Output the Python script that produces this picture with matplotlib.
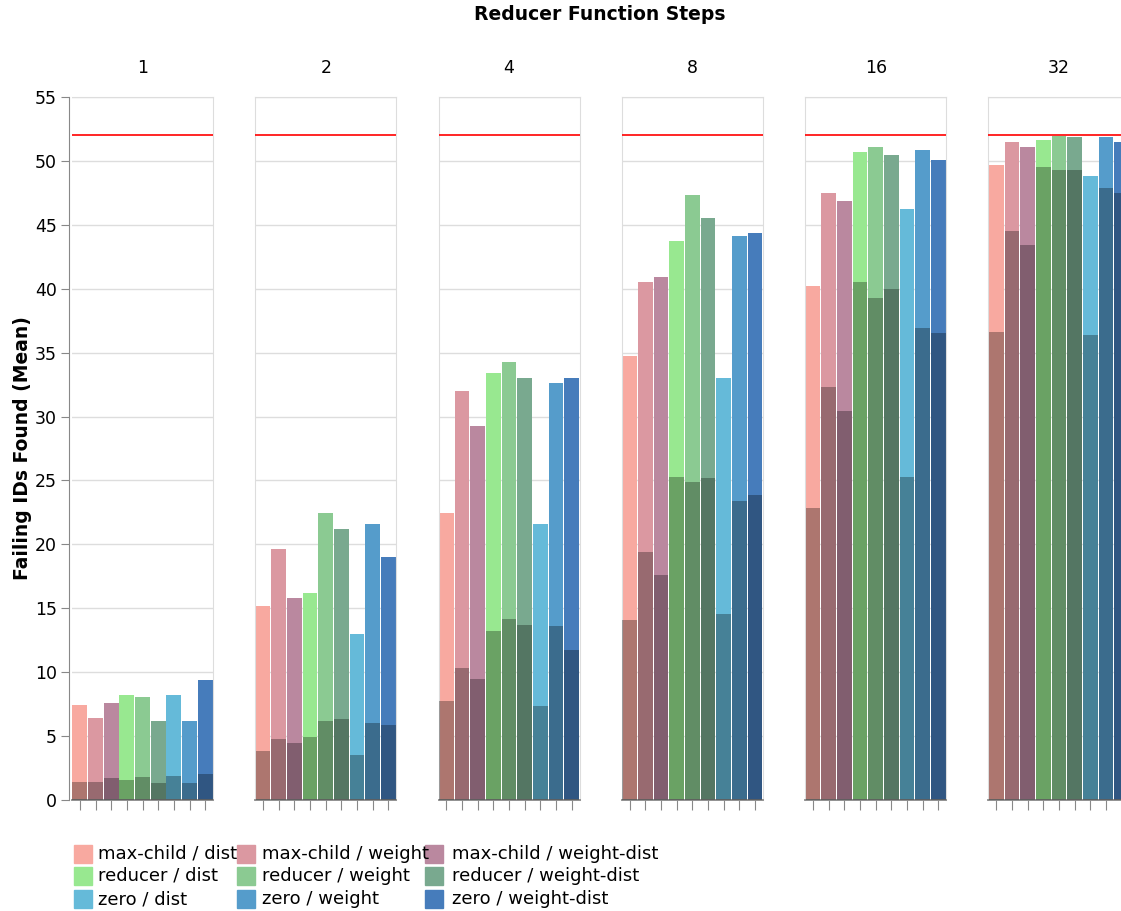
import numpy as np
import matplotlib.pyplot as plt
from matplotlib.patches import Rectangle

# facet steps and series
steps = ["1", "2", "4", "8", "16", "32"]
series = ["max-child / dist", "max-child / weight", "max-child / weight-dist",
          "reducer / dist", "reducer / weight", "reducer / weight-dist",
          "zero / dist", "zero / weight", "zero / weight-dist"]
colors = ["#f8a9a0", "#db98a1", "#ba889f",
          "#98e890", "#8bca92", "#79a98f",
          "#65bad9", "#559ccb", "#467cbb"]

# mean failing IDs found (full bar), one row per step
found_mean = [
    [7.45, 6.45, 7.6, 8.2, 8.05, 6.2, 8.2, 6.2, 9.4],
    [15.2, 19.65, 15.8, 16.2, 22.45, 21.2, 13.0, 21.6, 19.0],
    [22.45, 32.0, 29.25, 33.4, 34.25, 33.0, 21.6, 32.6, 33.0],
    [34.7, 40.5, 40.9, 43.7, 47.3, 45.5, 33.05, 44.1, 44.35],
    [40.2, 47.5, 46.9, 50.7, 51.1, 50.45, 46.2, 50.85, 50.05],
    [49.65, 51.45, 51.1, 51.6, 51.95, 51.85, 48.8, 51.85, 51.45],
]
# darker overlay bars
overlay_mean = [
    [1.4, 1.4, 1.7, 1.55, 1.8, 1.35, 1.9, 1.3, 2.0],
    [3.8, 4.8, 4.45, 4.9, 6.2, 6.3, 3.5, 6.0, 5.9],
    [7.75, 10.35, 9.45, 13.2, 14.15, 13.7, 7.35, 13.6, 11.75],
    [14.05, 19.4, 17.6, 25.3, 24.9, 25.2, 14.55, 23.4, 23.9],
    [22.85, 32.35, 30.45, 40.5, 39.3, 40.0, 25.25, 36.9, 36.5],
    [36.6, 44.5, 43.4, 49.55, 49.25, 49.25, 36.4, 47.9, 47.5],
]
total_ids = 52

W, H = 1121, 911
fig = plt.figure(figsize=(W / 100, H / 100), dpi=100)


def px_rect(left, top, w, h):
    return [left / W, 1 - (top + h) / H, w / W, h / H]


x = np.arange(len(series))
for k, step in enumerate(steps):
    ax = fig.add_axes(px_rect(72 + 183.3 * k, 97, 141, 703))
    ax.bar(x, found_mean[k], width=0.94, color=colors, zorder=2)
    ax.bar(x, overlay_mean[k], width=0.94, color="black", alpha=0.3, zorder=3)
    ax.axhline(total_ids, color="red", lw=1.2, zorder=4)
    ax.set_xlim(-0.5, 8.5)
    ax.set_ylim(0, 55)
    ax.set_yticks(np.arange(0, 56, 5))
    ax.grid(axis="y", color="#dddddd", lw=1, zorder=0)
    ax.set_axisbelow(True)
    for s in ax.spines.values():
        s.set_color("#dddddd")
    ax.spines["bottom"].set_color("#888888")
    ax.spines["bottom"].set_linewidth(1.3)
    ax.set_xticks(x)
    ax.tick_params(axis="x", length=7, color="#888888", labelbottom=False)
    ax.set_title(step, fontsize=12.5, pad=17)
    if k == 0:
        ax.spines["left"].set_position(("outward", 2))
        ax.spines["left"].set_color("#888888")
        ax.tick_params(axis="y", length=6, color="#888888", labelsize=12.5, pad=3)
        ax.set_ylabel("Failing IDs Found (Mean)", fontsize=13.5, fontweight="bold", labelpad=2)
    else:
        ax.tick_params(axis="y", left=False, labelleft=False)

fig.text(600 / W, 1 - 14 / H, "Reducer Function Steps", ha="center", va="center",
         fontsize=13.5, fontweight="bold")

# legend, three columns filled row by row
swatch_x = [74, 237, 425]
label_x = [98, 262, 452]
row_y = [854, 876, 899]
for i, (name, c) in enumerate(zip(series, colors)):
    r, cidx = divmod(i, 3)
    sy = row_y[r]
    fig.patches.append(Rectangle((swatch_x[cidx] / W, 1 - (sy + 9) / H), 18 / W, 18 / H,
                                 transform=fig.transFigure, color=c))
    fig.text(label_x[cidx] / W, 1 - sy / H, name, ha="left", va="center", fontsize=13)

fig.savefig("out.png", dpi=100)
